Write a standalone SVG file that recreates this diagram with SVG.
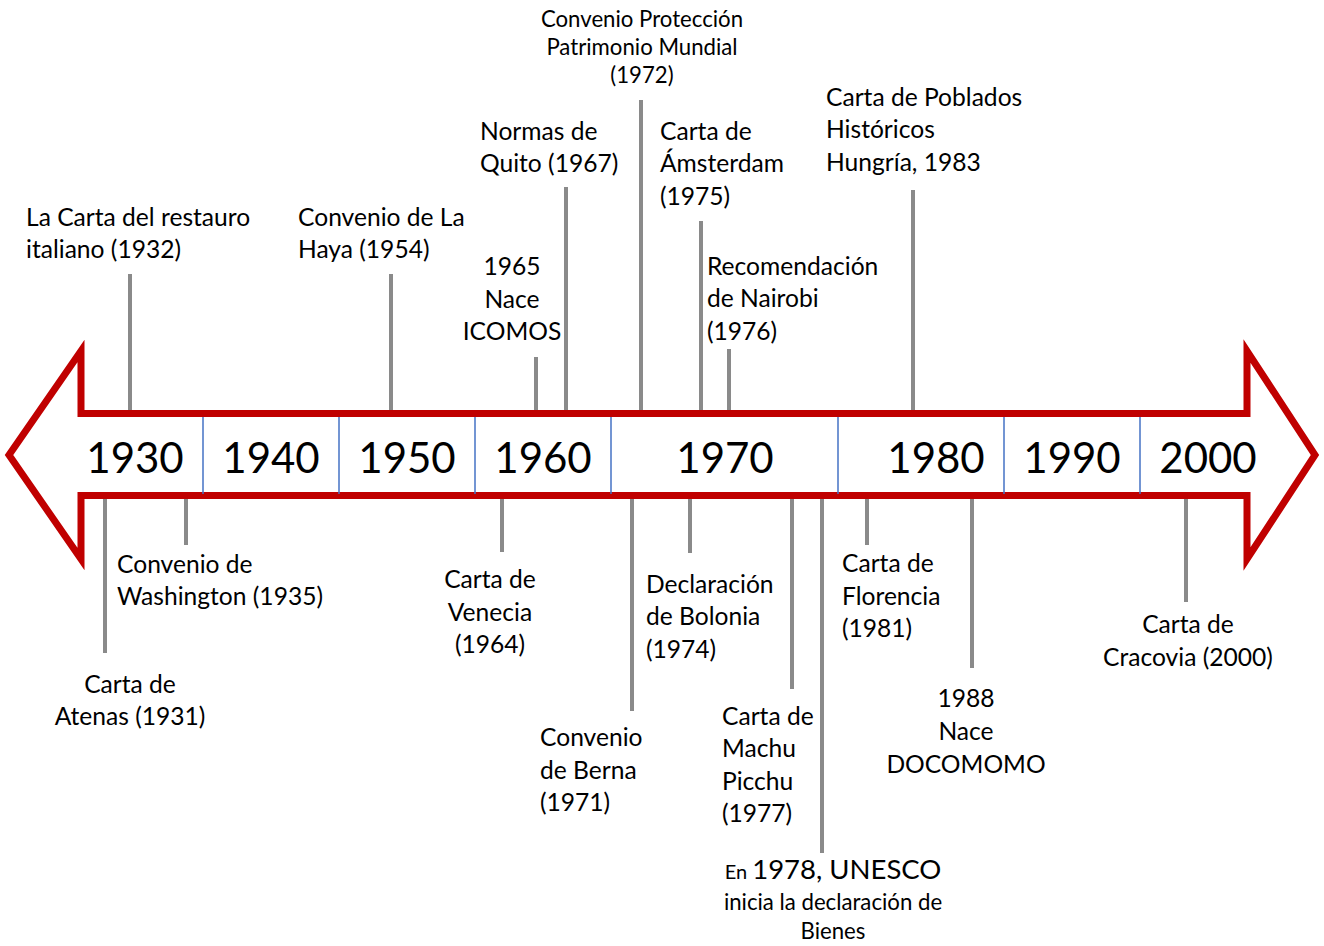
<svg xmlns="http://www.w3.org/2000/svg" width="1324" height="946" viewBox="0 0 1324 946">
<style>
text{font-family:Lato,"Liberation Sans",sans-serif;fill:#000}
.t{font-size:24.6px}
.s{font-size:22.2px}
.y{font-size:42px;text-anchor:middle}
.m{text-anchor:middle}
.tick{stroke:#8a8a8a;stroke-width:4;fill:none}
.div{stroke:#4472c4;stroke-width:1.5}
</style>
<rect width="1324" height="946" fill="#fff"/>
<g id="arrow">
<path d="M9,455 L81,351 L81,413.5 L1247,413.5 L1247,351 L1315,455 L1247,559 L1247,495.5 L81,495.5 L81,559 Z" fill="#fff" stroke="#c00000" stroke-width="7" stroke-linejoin="miter" stroke-miterlimit="10"/>
<g id="dividers">
<line class="div" x1="203" y1="417" x2="203" y2="494"/>
<line class="div" x1="339" y1="417" x2="339" y2="494"/>
<line class="div" x1="475" y1="417" x2="475" y2="494"/>
<line class="div" x1="611" y1="417" x2="611" y2="494"/>
<line class="div" x1="838" y1="417" x2="838" y2="494"/>
<line class="div" x1="1004" y1="417" x2="1004" y2="494"/>
<line class="div" x1="1140" y1="417" x2="1140" y2="494"/>
</g>
<g id="years">
<text class="y" x="135" y="473">1930</text>
<text class="y" x="271" y="473">1940</text>
<text class="y" x="407" y="473">1950</text>
<text class="y" x="543" y="473">1960</text>
<text class="y" x="725" y="473">1970</text>
<text class="y" x="936" y="473">1980</text>
<text class="y" x="1072" y="473">1990</text>
<text class="y" x="1208" y="473">2000</text>
</g>
</g>
<g id="connectors">
<line class="tick" x1="130" y1="274" x2="130" y2="410"/>
<line class="tick" x1="391" y1="274" x2="391" y2="410"/>
<line class="tick" x1="536" y1="357" x2="536" y2="410"/>
<line class="tick" x1="566" y1="187" x2="566" y2="410"/>
<line class="tick" x1="641" y1="100" x2="641" y2="410"/>
<line class="tick" x1="701" y1="221" x2="701" y2="410"/>
<line class="tick" x1="729" y1="349" x2="729" y2="410"/>
<line class="tick" x1="913" y1="190" x2="913" y2="410"/>
<line class="tick" x1="105" y1="499" x2="105" y2="653"/>
<line class="tick" x1="186" y1="499" x2="186" y2="545"/>
<line class="tick" x1="502" y1="499" x2="502" y2="552"/>
<line class="tick" x1="632" y1="499" x2="632" y2="711"/>
<line class="tick" x1="690" y1="499" x2="690" y2="553"/>
<line class="tick" x1="792" y1="499" x2="792" y2="689"/>
<line class="tick" x1="822" y1="499" x2="822" y2="853"/>
<line class="tick" x1="867" y1="499" x2="867" y2="545"/>
<line class="tick" x1="972" y1="499" x2="972" y2="668"/>
<line class="tick" x1="1186" y1="499" x2="1186" y2="602"/>
</g>
<g id="n1932"><text class="t" x="26" y="226">La Carta del restauro</text><text class="t" x="26" y="258">italiano (1932)</text></g>
<g id="n1954"><text class="t" x="298" y="226">Convenio de La</text><text class="t" x="298" y="258">Haya (1954)</text></g>
<g id="n1965"><text class="t m" x="512" y="275">1965</text><text class="t m" x="512" y="308">Nace</text><text class="t m" x="512" y="340">ICOMOS</text></g>
<g id="n1967"><text class="t" x="480" y="140">Normas de</text><text class="t" x="480" y="172">Quito (1967)</text></g>
<g id="n1972"><text class="s m" x="642" y="27">Convenio Protección</text><text class="s m" x="642" y="55">Patrimonio Mundial</text><text class="s m" x="642" y="83">(1972)</text></g>
<g id="n1975"><text class="t" x="660" y="140">Carta de</text><text class="t" x="660" y="172">Ámsterdam</text><text class="t" x="660" y="205">(1975)</text></g>
<g id="n1976"><text class="t" x="707" y="275">Recomendación</text><text class="t" x="707" y="307">de Nairobi</text><text class="t" x="707" y="340">(1976)</text></g>
<g id="n1983"><text class="t" x="826" y="106">Carta de Poblados</text><text class="t" x="826" y="138">Históricos</text><text class="t" x="826" y="171">Hungría, 1983</text></g>
<g id="n1935"><text class="t" x="117" y="573">Convenio de</text><text class="t" x="117" y="605">Washington (1935)</text></g>
<g id="n1931"><text class="t m" x="130" y="693">Carta de</text><text class="t m" x="130" y="725">Atenas (1931)</text></g>
<g id="n1964"><text class="t m" x="490" y="588">Carta de</text><text class="t m" x="490" y="621">Venecia</text><text class="t m" x="490" y="653">(1964)</text></g>
<g id="n1974"><text class="t" x="646" y="593">Declaración</text><text class="t" x="646" y="625">de Bolonia</text><text class="t" x="646" y="658">(1974)</text></g>
<g id="n1971"><text class="t" x="540" y="746">Convenio</text><text class="t" x="540" y="779">de Berna</text><text class="t" x="540" y="811">(1971)</text></g>
<g id="n1977"><text class="t" x="722" y="725">Carta de</text><text class="t" x="722" y="757">Machu</text><text class="t" x="722" y="790">Picchu</text><text class="t" x="722" y="822">(1977)</text></g>
<g id="n1981"><text class="t" x="842" y="572">Carta de</text><text class="t" x="842" y="605">Florencia</text><text class="t" x="842" y="637">(1981)</text></g>
<g id="n1988"><text class="t m" x="966" y="707">1988</text><text class="t m" x="966" y="740">Nace</text><text class="t m" x="966" y="773">DOCOMOMO</text></g>
<g id="n2000"><text class="t m" x="1188" y="633">Carta de</text><text class="t m" x="1188" y="666">Cracovia (2000)</text></g>
<g id="n1978"><text class="m" x="833" y="879"><tspan font-size="20">En </tspan><tspan font-size="27.5">1978, UNESCO</tspan></text><text class="s m" x="833" y="910">inicia la declaración de</text><text class="s m" x="833" y="939">Bienes</text></g>
</svg>
